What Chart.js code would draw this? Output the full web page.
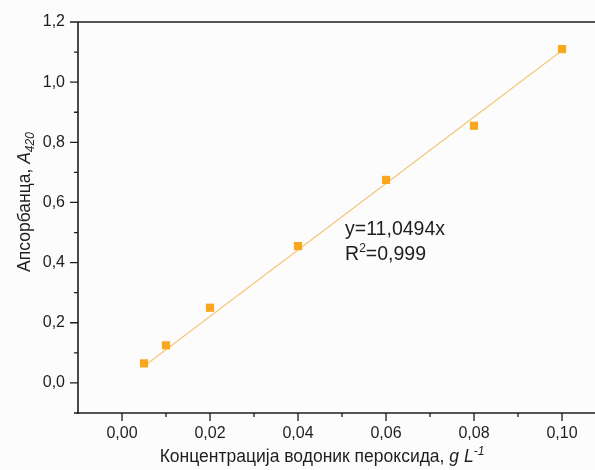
<!DOCTYPE html>
<html>
<head>
<meta charset="utf-8">
<script src="https://cdn.jsdelivr.net/npm/chart.js@4.4.1/dist/chart.umd.min.js"></script>
<style>
  html, body { margin: 0; padding: 0; background: #fcfcfc; overflow: hidden; }
  #wrap { width: 595px; height: 470px; }
</style>
</head>
<body>
<div id="wrap"><canvas id="calibChart" width="595" height="470"></canvas></div>
<script>
// calibration: H2O2 concentration vs absorbance at 420 nm
const concentration = [0.005, 0.01, 0.02, 0.04, 0.06, 0.08, 0.10];
const absorbance = [0.065, 0.125, 0.25, 0.455, 0.675, 0.855, 1.11];

// linear fit through origin
const slope = 11.0494;
const rSquared = "0,999";
const fitFrom = 0.005;
const fitTo = 0.10;

const xMajor = [0, 0.02, 0.04, 0.06, 0.08, 0.10];
const xMinor = [0.01, 0.03, 0.05, 0.07, 0.09];
const yMajor = [0, 0.2, 0.4, 0.6, 0.8, 1.0, 1.2];
const yMinor = [-0.1, 0.1, 0.3, 0.5, 0.7, 0.9, 1.1];

const FONT = "'Liberation Sans', Arial, sans-serif";
const INK = "#1e1e1e";

const fitLine = [fitFrom, fitTo].map(x => ({ x: x, y: slope * x }));
const points = concentration.map((c, i) => ({ x: c, y: absorbance[i] }));

// writes a run of differently styled text pieces, centred or left aligned
function richText(ctx, parts, x, y, align) {
  let total = 0;
  parts.forEach(p => { ctx.font = p.font; total += ctx.measureText(p.text).width; });
  let cx = align === "center" ? x - total / 2 : x;
  ctx.textAlign = "left";
  ctx.textBaseline = "alphabetic";
  parts.forEach(p => {
    ctx.font = p.font;
    ctx.fillText(p.text, cx, y + (p.dy || 0));
    cx += ctx.measureText(p.text).width;
  });
}

const framePlugin = {
  id: "frame",
  afterDraw(chart) {
    const { ctx, chartArea: a, scales: { x, y } } = chart;
    ctx.save();
    ctx.strokeStyle = INK;
    ctx.fillStyle = INK;

    // axis lines and top border
    ctx.lineWidth = 1.6;
    ctx.beginPath();
    ctx.moveTo(a.left, a.top);
    ctx.lineTo(a.left, a.bottom + 1);
    ctx.moveTo(a.left - 1, a.bottom);
    ctx.lineTo(a.right, a.bottom);
    ctx.moveTo(a.left, a.top);
    ctx.lineTo(a.right, a.top);
    ctx.stroke();

    // outward tick marks
    ctx.lineWidth = 1.3;
    ctx.beginPath();
    xMajor.forEach(v => { const px = x.getPixelForValue(v); ctx.moveTo(px, a.bottom); ctx.lineTo(px, a.bottom + 8); });
    xMinor.forEach(v => { const px = x.getPixelForValue(v); ctx.moveTo(px, a.bottom); ctx.lineTo(px, a.bottom + 4); });
    yMajor.forEach(v => { const py = y.getPixelForValue(v); ctx.moveTo(a.left, py); ctx.lineTo(a.left - 8, py); });
    yMinor.forEach(v => { const py = y.getPixelForValue(v); ctx.moveTo(a.left, py); ctx.lineTo(a.left - 4, py); });
    ctx.stroke();

    // axis titles
    richText(ctx, [
      { text: "Концентрација водоник пероксида, ", font: "17.5px " + FONT },
      { text: "g L", font: "italic 17.5px " + FONT },
      { text: "-1", font: "italic 12px " + FONT, dy: -7 }
    ], 322, 462, "center");

    ctx.save();
    ctx.translate(30, 202);
    ctx.rotate(-Math.PI / 2);
    richText(ctx, [
      { text: "Апсорбанца, ", font: "17.5px " + FONT },
      { text: "A", font: "italic 17.5px " + FONT },
      { text: "420", font: "italic 12px " + FONT, dy: 4 }
    ], 0, 0, "center");
    ctx.restore();

    // fit equation
    const ex = x.getPixelForValue(0.0507);
    const ey = y.getPixelForValue(0.493);
    richText(ctx, [{ text: "y=" + String(slope).replace(".", ",") + "x", font: "19.5px " + FONT }], ex, ey, "left");
    richText(ctx, [
      { text: "R", font: "19.5px " + FONT },
      { text: "2", font: "12px " + FONT, dy: -8 },
      { text: "=" + rSquared, font: "19.5px " + FONT }
    ], ex, ey + 25, "left");

    ctx.restore();
  }
};

new Chart(document.getElementById("calibChart"), {
  type: "scatter",
  data: {
    datasets: [
      {
        label: "measured",
        data: points,
        pointStyle: "rect",
        pointRadius: 5.8,
        pointBackgroundColor: "#f8a81f",
        pointBorderWidth: 0,
        showLine: false
      },
      {
        label: "fit",
        data: fitLine,
        showLine: true,
        borderColor: "#f5c677",
        borderWidth: 1.2,
        pointRadius: 0
      }
    ]
  },
  options: {
    responsive: false,
    devicePixelRatio: 1,
    animation: false,
    layout: { autoPadding: false, padding: { top: 22, right: 0, left: 0, bottom: 0 } },
    plugins: { legend: { display: false }, tooltip: { enabled: false } },
    scales: {
      x: {
        type: "linear",
        min: -0.01,
        max: 0.1075,
        afterBuildTicks: s => { s.ticks = xMajor.map(v => ({ value: v })); },
        afterFit: s => { s.height = 57; s.paddingLeft = 0; s.paddingRight = 0; },
        grid: { display: false, drawTicks: false },
        border: { display: false },
        ticks: {
          padding: 11,
          color: INK,
          font: { family: FONT, size: 16 },
          maxRotation: 0,
          autoSkip: false,
          callback: v => v.toFixed(2).replace(".", ",")
        }
      },
      y: {
        type: "linear",
        min: -0.1,
        max: 1.2,
        afterBuildTicks: s => { s.ticks = yMajor.map(v => ({ value: v })); },
        afterFit: s => { s.width = 78; s.paddingTop = 0; s.paddingBottom = 0; },
        grid: { display: false, drawTicks: false },
        border: { display: false },
        ticks: {
          padding: 13,
          color: INK,
          font: { family: FONT, size: 16 },
          autoSkip: false,
          callback: v => v.toFixed(1).replace(".", ",")
        }
      }
    }
  },
  plugins: [framePlugin]
});
</script>
</body>
</html>
